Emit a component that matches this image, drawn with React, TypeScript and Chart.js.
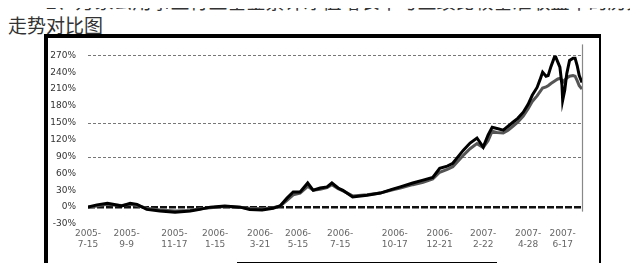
import React, { useEffect, useRef } from "react";
import { Chart, registerables } from "chart.js";

Chart.register(...registerables);

const titleLine1 = "2、万家公用事业行业基金累计净值增长率与业绩比较基准收益率的历史";
const titleLine2 = "走势对比图";
const seriesNames = ["万家公用事业行业基金", "业绩比较基准"];

// days since 2005-07-15
const days = [0, 13, 28, 36, 49, 61, 71, 85, 104, 126, 148, 162, 177, 198, 220, 234, 252, 268, 278, 288, 297, 307, 318, 326, 336, 346, 353, 362, 369, 383, 404, 423, 441, 452, 470, 485, 499, 509, 520, 528, 543, 553, 563, 572, 579, 585, 592, 601, 608, 615, 622, 630, 637, 643, 650, 654, 658, 663, 666, 670, 676, 680, 683, 686, 687, 690, 693, 697, 702, 705, 708, 711, 715];

const fundGrowth = [0, 4, 7, 5, 2, 7, 5, -4, -7, -9, -7, -4, 0, 2, 0, -4, -5, -2, 2, 16, 27, 27, 43, 30, 34, 36, 43, 34, 30, 18, 21, 25, 32, 36, 43, 48, 53, 69, 73, 78, 101, 114, 123, 107, 128, 142, 140, 137, 144, 151, 158, 169, 183, 199, 213, 226, 240, 233, 234, 250, 270, 258, 249, 217, 190, 208, 238, 261, 265, 265, 252, 234, 222];

const benchGrowth = [0, 2, 5, 4, 3, 5, 3, -2, -5, -7, -6, -3, -1, 1, 0, -2, -3, -1, 2, 12, 22, 25, 37, 30, 32, 35, 40, 33, 29, 20, 22, 25, 31, 34, 40, 44, 50, 62, 67, 72, 92, 104, 113, 106, 118, 135, 133, 132, 137, 144, 151, 162, 175, 188, 198, 205, 212, 214, 216, 220, 225, 228, 229, 226, 222, 226, 230, 233, 234, 233, 225, 216, 210];

const tickDays = [0, 56, 125, 184, 249, 304, 365, 444, 509, 572, 637, 687];
const tickLabels = [
  ["2005-", "7-15"], ["2005-", "9-9"], ["2005-", "11-17"], ["2006-", "1-15"],
  ["2006-", "3-21"], ["2006-", "5-15"], ["2006-", "7-15"], ["2006-", "10-17"],
  ["2006-", "12-21"], ["2007-", "2-22"], ["2007-", "4-28"], ["2007-", "6-17"],
];
const yTicks = [-30, 0, 30, 60, 90, 120, 150, 180, 210, 240, 270];
const dottedGrid = [270, 150, 90];

export default function App() {
  const ref = useRef<HTMLCanvasElement>(null);

  useEffect(() => {
    const canvas = ref.current!;
    const gridPlugin = {
      id: "customGrid",
      beforeDatasetsDraw(chart: any) {
        const { ctx, chartArea, scales } = chart;
        ctx.save();
        ctx.strokeStyle = "#777";
        ctx.lineWidth = 1;
        ctx.setLineDash([3, 2]);
        dottedGrid.forEach((v) => {
          const y = Math.round(scales.y.getPixelForValue(v)) + 0.5;
          ctx.beginPath();
          ctx.moveTo(chartArea.left, y);
          ctx.lineTo(chartArea.right, y);
          ctx.stroke();
        });
        const y0 = scales.y.getPixelForValue(0);
        ctx.strokeStyle = "#111";
        ctx.lineWidth = 2.5;
        ctx.setLineDash([7, 2]);
        ctx.beginPath();
        ctx.moveTo(chartArea.left, y0);
        ctx.lineTo(chartArea.right, y0);
        ctx.stroke();
        ctx.setLineDash([]);
        ctx.strokeStyle = "#888";
        ctx.lineWidth = 1.2;
        ctx.beginPath();
        ctx.moveTo(chartArea.right + 0.5, chartArea.top - 11);
        ctx.lineTo(chartArea.right + 0.5, scales.y.getPixelForValue(-8));
        ctx.stroke();
        ctx.restore();
      },
    };

    const chart = new Chart(canvas, {
      type: "line",
      data: {
        datasets: [
          {
            label: seriesNames[0],
            data: days.map((d, i) => ({ x: d, y: fundGrowth[i] })),
            borderColor: "#000",
            borderWidth: 3,
            pointRadius: 0,
            tension: 0,
            order: 0,
          },
          {
            label: seriesNames[1],
            data: days.map((d, i) => ({ x: d, y: benchGrowth[i] })),
            borderColor: "#555",
            borderWidth: 3,
            pointRadius: 0,
            tension: 0,
            order: 1,
          },
        ],
      },
      options: {
        responsive: false,
        animation: false,
        layout: { padding: { top: 17, right: 17, left: 0, bottom: 0 } },
        plugins: { legend: { display: false }, tooltip: { enabled: false } },
        scales: {
          x: {
            type: "linear",
            min: 0,
            max: 715,
            afterBuildTicks: (s: any) => {
              s.ticks = tickDays.map((v) => ({ value: v }));
            },
            afterFit: (s: any) => {
              s.height = 47;
            },
            ticks: {
              autoSkip: false,
              maxRotation: 0,
              padding: 4,
              color: "#666",
              font: { size: 9, family: "DejaVu Sans" },
              callback: (v: any) => {
                const i = tickDays.indexOf(v);
                return i >= 0 ? tickLabels[i] : "";
              },
            },
            grid: { display: false, drawTicks: false },
            border: { display: false },
          },
          y: {
            min: -30,
            max: 270,
            afterBuildTicks: (s: any) => {
              s.ticks = yTicks.map((v) => ({ value: v }));
            },
            afterFit: (s: any) => {
              s.width = 40;
            },
            ticks: {
              padding: 12,
              color: "#333",
              font: { size: 9, family: "DejaVu Sans" },
              callback: (v: any) => v + "%",
            },
            grid: { display: false, drawTicks: false },
            border: { display: false },
          },
        },
      },
      plugins: [gridPlugin],
    });
    return () => chart.destroy();
  }, []);

  return (
    <div style={{ position: "relative", margin: -8, width: 638, height: 271, overflow: "hidden", background: "#fff" }}>
      <div
        style={{
          position: "absolute",
          left: 8,
          top: -11,
          fontFamily: "'Noto Sans CJK SC', sans-serif",
          fontSize: 19,
          lineHeight: "24px",
          color: "#333",
          whiteSpace: "nowrap",
        }}
      >
        <div style={{ paddingLeft: 38 }}>{titleLine1}</div>
        <div>{titleLine2}</div>
      </div>
      <div
        style={{
          position: "absolute",
          left: 44,
          top: 34,
          width: 557,
          height: 260,
          boxSizing: "border-box",
          borderTop: "4px solid #000",
          borderLeft: "4px solid #000",
          borderRight: "2px solid #000",
          background: "#fff",
        }}
      />
      <canvas
        ref={ref}
        width={551}
        height={233}
        style={{ position: "absolute", left: 48, top: 38, width: 551, height: 233 }}
      />
      <div
        style={{
          position: "absolute",
          left: 237,
          top: 262,
          width: 260,
          height: 30,
          boxSizing: "border-box",
          border: "1.5px solid #000",
          background: "#fff",
          display: "flex",
          alignItems: "flex-start",
          paddingTop: 0,
          fontFamily: "'Noto Sans CJK SC', sans-serif",
          fontSize: 13,
          lineHeight: "15px",
          color: "#222",
        }}
      >
        <span style={{ display: "inline-block", width: 24, height: 3, background: "#000", margin: "6px 4px 0 12px" }} />
        <span>{seriesNames[0]}</span>
        <span style={{ display: "inline-block", width: 24, height: 3, background: "#555", margin: "6px 4px 0 8px" }} />
        <span>{seriesNames[1]}</span>
      </div>
    </div>
  );
}
